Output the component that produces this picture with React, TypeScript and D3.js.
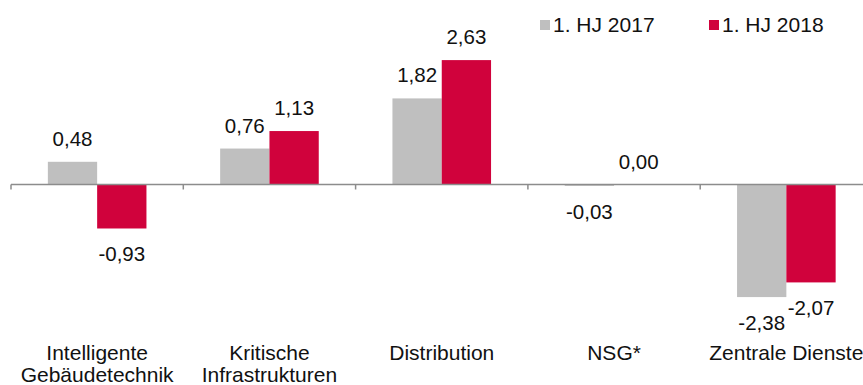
import React from "react";
import * as d3 from "d3";

const categories = ["Intelligente\nGebäudetechnik", "Kritische\nInfrastrukturen", "Distribution", "NSG*", "Zentrale Dienste"];
const seriesNames = ["1. HJ 2017", "1. HJ 2018"];
const values2017 = [0.48, 0.76, 1.82, -0.03, -2.38];
const values2018 = [-0.93, 1.13, 2.63, 0.0, -2.07];
const colors = ["#BFBFBF", "#D0023C"];

const W = 863;
const H = 385;
const FONT = "'Liberation Sans', Arial, Helvetica, sans-serif";

export default function App() {
  const x0 = d3.scaleBand<string>().domain(categories).range([11, 11 + 172.3 * 5]).paddingInner(0).paddingOuter(0);
  const x1 = d3.scaleBand<string>().domain(seriesNames).range([0, x0.bandwidth()]).paddingInner(0).paddingOuter(0.7475);
  const y = d3.scaleLinear().domain([-3, 3]).range([184.5 + 141.9, 184.5 - 141.9]);
  const series = [values2017, values2018];
  const fmt = (v: number) => v.toFixed(2).replace(".", ",");
  const y0 = y(0);

  return (
    <svg width={W} height={H} style={{ position: "absolute", left: 0, top: 0 }} fontFamily={FONT}>
      <rect width={W} height={H} fill="#fff" />
      {categories.map((c, ci) =>
        series.map((vals, si) => {
          const v = vals[ci];
          const bx = (x0(c) as number) + (x1(seriesNames[si]) as number);
          const top = Math.min(y(v), y0);
          const h = Math.abs(y(v) - y0);
          return <rect key={`b${ci}-${si}`} x={bx} y={top} width={x1.bandwidth()} height={h} fill={colors[si]} />;
        })
      )}
      <line x1={11} x2={W} y1={y0} y2={y0} stroke="#8C8C8C" strokeWidth={1.5} />
      {categories.map((c, ci) => (
        <line key={`t${ci}`} x1={x0(c) as number} x2={x0(c) as number} y1={y0} y2={y0 + 5} stroke="#8C8C8C" strokeWidth={1.5} />
      ))}
      {categories.map((c, ci) =>
        series.map((vals, si) => {
          const v = vals[ci];
          const cx = (x0(c) as number) + (x1(seriesNames[si]) as number) + x1.bandwidth() / 2;
          const ty = v >= 0 ? y(v) - 16 : y(v) + 33;
          return (
            <text key={`l${ci}-${si}`} x={cx} y={ty} fontSize={20.5} textAnchor="middle" fill="#111">
              {fmt(v)}
            </text>
          );
        })
      )}
      {categories.map((c, ci) => {
        const cx = (x0(c) as number) + x0.bandwidth() / 2;
        return (
          <text key={`c${ci}`} x={cx} y={360} fontSize={21} textAnchor="middle" fill="#111">
            {c.split("\n").map((line, li) => (
              <tspan key={li} x={cx} dy={li === 0 ? 0 : 21.5}>
                {line}
              </tspan>
            ))}
          </text>
        );
      })}
      {seriesNames.map((s, si) => {
        const lx = si === 0 ? 540 : 709;
        return (
          <g key={`lg${si}`}>
            <rect x={lx} y={20} width={10} height={10} fill={colors[si]} />
            <text x={lx + 13} y={32} fontSize={21} fill="#111">
              {s}
            </text>
          </g>
        );
      })}
    </svg>
  );
}
